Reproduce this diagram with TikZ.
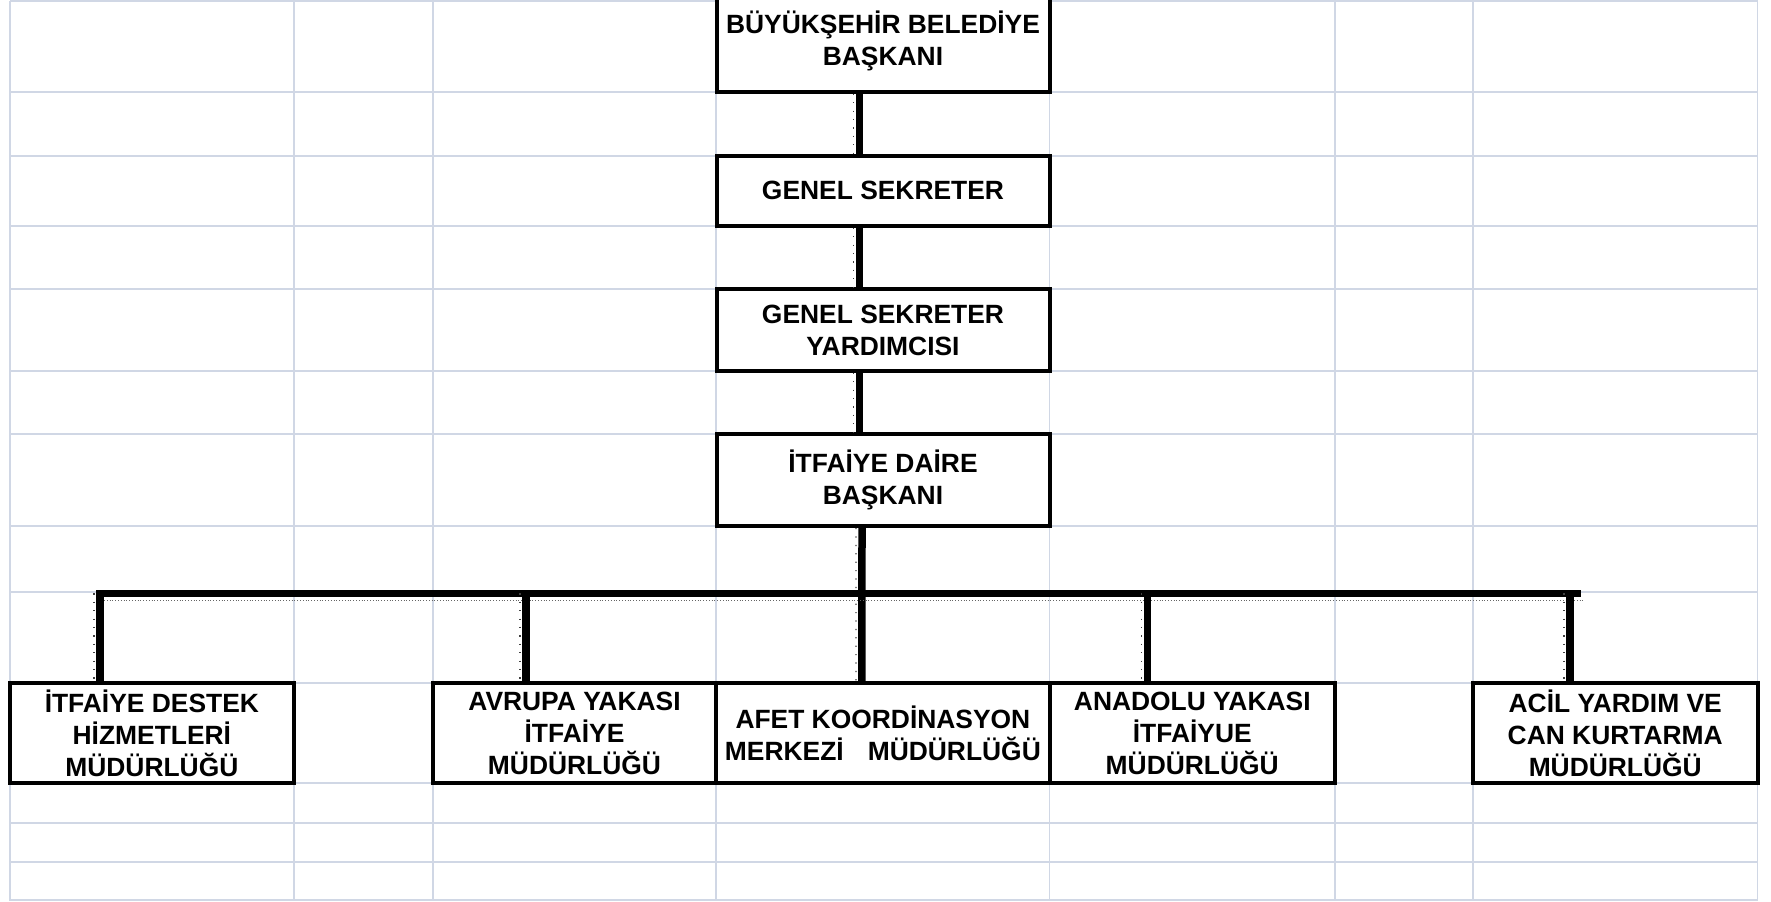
\documentclass[tikz,border=0pt]{standalone}
\usepackage{fontspec}
\setmainfont{Liberation Sans}
\definecolor{gridc}{RGB}{208,215,229}
\begin{document}
\begin{tikzpicture}[x=0.5pt,y=-0.5pt,
  box/.style={draw=black, line width=2pt, fill=white, inner sep=0pt, align=center,
    font=\bfseries\fontsize{13.2}{16}\selectfont},
  topbox/.style={box, minimum width=166.5pt},
  lowbox/.style={box, minimum height=50pt},
  link/.style={line width=3.75pt},
  buslink/.style={line width=3.5pt},
  ghost/.style={line width=0.6pt, dash pattern=on 0.6pt off 3.6pt, black!75},
  busghost/.style={line width=0.5pt, dash pattern=on 0.5pt off 0.9pt, black!60},
  gridline/.style={gridc, line width=0.9pt}
]
\useasboundingbox (0,0) rectangle (1771,901);
\clip (0,0) rectangle (1771,901);
% spreadsheet grid
\foreach \x in {10,293.7,432.7,716.3,1049.5,1335,1473,1757.5}
  \draw[gridline] (\x,1) -- (\x,901);
\foreach \y in {1,91.7,155.7,225.7,289.3,370.7,434.3,526,592.3,683.3,783.3,822.7,861.7,900}
  \draw[gridline] (10,\y) -- (1757.5,\y);

% top column
\node[topbox, minimum height=50.85pt] (b1) at (883,40.85) {BÜYÜKŞEHİR BELEDİYE\\BAŞKANI};
\node[topbox, minimum height=35pt] (b2) at (883,190.7) {GENEL SEKRETER};
\node[topbox, minimum height=40.7pt] (b3) at (883,330) {GENEL SEKRETER\\YARDIMCISI};
\node[topbox, minimum height=45.85pt] (b4) at (883,480.15) {İTFAİYE DAİRE\\BAŞKANI};

% bottom row
\node[lowbox, minimum width=141.85pt] (d1) at (151.85,733.3) {İTFAİYE DESTEK\\HİZMETLERİ\\MÜDÜRLÜĞÜ};
\node[lowbox, minimum width=141.8pt] (d2) at (574.5,733.3) {AVRUPA YAKASI\\İTFAİYE\\MÜDÜRLÜĞÜ};
\node[lowbox, minimum width=166.6pt] (d3) at (882.9,733.3) {AFET KOORDİNASYON\\MERKEZİ\hspace{12pt}MÜDÜRLÜĞÜ};
\node[lowbox, minimum width=142.75pt] (d4) at (1192.25,733.3) {ANADOLU YAKASI\\İTFAİYUE\\MÜDÜRLÜĞÜ};
\node[lowbox, minimum width=142.25pt] (d5) at (1615.25,733.3) {ACİL YARDIM VE\\CAN KURTARMA\\MÜDÜRLÜĞÜ};

% vertical connectors
\draw[link] ([xshift=-11.75pt]b1.south) -- ([xshift=-11.75pt]b2.north);
\draw[link] ([xshift=-11.75pt]b2.south) -- ([xshift=-11.75pt]b3.north);
\draw[link] ([xshift=-11.75pt]b3.south) -- ([xshift=-11.75pt]b4.north);
\draw[link] ([xshift=-10.5pt]b4.south) -- ([xshift=-10.5pt]d3.north);
\draw[ghost] ([xshift=-14.75pt]b1.south) -- ([xshift=-14.75pt]b2.north);
\draw[ghost] ([xshift=-14.75pt]b2.south) -- ([xshift=-14.75pt]b3.north);
\draw[ghost] ([xshift=-14.75pt]b3.south) -- ([xshift=-14.75pt]b4.north);
\draw[ghost] ([xshift=-13.5pt]b4.south) -- ([xshift=-13.5pt]d3.north);

% bus
\coordinate (busL) at (96,593.3);
\coordinate (busR) at (1581,593.3);
\draw[buslink] (busL) -- (busR);
\draw[busghost] ([xshift=4pt,yshift=-3.5pt]busL) -- ([xshift=2pt,yshift=-3.5pt]busR);

% drops
\draw[link] ([xshift=-25.9pt]d1.north |- busL) -- ([xshift=-25.9pt]d1.north);
\draw[link] ([xshift=-24.25pt]d2.north |- busL) -- ([xshift=-24.25pt]d2.north);
\draw[link] ([xshift=-22.3pt]d4.north |- busL) -- ([xshift=-22.3pt]d4.north);
\draw[link] ([xshift=-22.6pt]d5.north |- busL) -- ([xshift=-22.6pt]d5.north);
\draw[ghost] ([xshift=-28.9pt]d1.north |- busL) -- ([xshift=-28.9pt]d1.north);
\draw[ghost] ([xshift=-27.25pt]d2.north |- busL) -- ([xshift=-27.25pt]d2.north);
\draw[ghost] ([xshift=-25.3pt]d4.north |- busL) -- ([xshift=-25.3pt]d4.north);
\draw[ghost] ([xshift=-25.6pt]d5.north |- busL) -- ([xshift=-25.6pt]d5.north);
\end{tikzpicture}
\end{document}
